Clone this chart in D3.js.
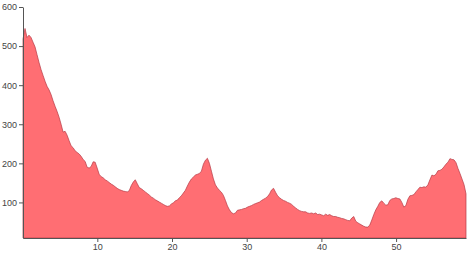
<!DOCTYPE html>
<html>
<head>
<meta charset="utf-8">
<script src="https://cdn.jsdelivr.net/npm/d3@7"></script>
<style>
  body { margin: 0; background: #fff; }
  svg { display: block; }
  .axis text { font-family: "Liberation Sans", Arial, sans-serif; font-size: 9px; fill: #444; }
  .axis path, .axis line { stroke: #555; }
</style>
</head>
<body>
<svg id="chart" width="473" height="253"></svg>
<script>
const values = [
  518,545,522,528,522,510,498,478,458,440,425,410,397,388,376,360,346,333,318,300,
  280,282,272,258,245,240,232,228,224,218,210,205,190,188,192,204,203,188,172,166,
  163,158,155,151,147,144,140,136,133,131,129,128,127,130,143,152,158,148,138,135,
  131,127,123,119,114,111,107,104,101,98,95,92,90,91,96,99,104,106,112,117,
  124,131,142,152,160,165,170,172,174,180,198,208,213,200,180,160,145,137,131,126,
  118,105,91,81,74,71,73,80,81,82,84,85,88,90,92,95,97,99,101,105,
  108,111,115,122,132,136,126,117,112,108,105,103,100,98,95,90,86,82,79,77,
  76,76,73,72,73,71,73,69,70,68,66,70,67,69,66,64,64,62,61,59,
  58,56,54,53,60,64,52,48,45,42,39,37,37,42,55,69,81,90,100,104,
  98,93,94,105,109,110,112,110,109,100,88,92,108,117,118,120,127,133,139,138,
  140,139,145,158,170,168,172,181,182,185,191,198,203,212,210,209,202,187,174,160,
  146,122
];
const timeStart = 0.05;
const timeEnd = 59.36;
const times = values.map((v, i) => timeStart + i * (timeEnd - timeStart) / (values.length - 1));
const data = values.map((v, i) => ({ t: times[i], v: v }));

const xTicks = [10, 20, 30, 40, 50];
const yTicks = [100, 200, 300, 400, 500, 600];
const yMin = 9, yMax = 600;

const W = 473, H = 253;
const margin = { top: 7, right: 7, bottom: 15, left: 23 };

const svg = d3.select("#chart");

const x = d3.scaleLinear()
  .domain([timeStart, timeEnd])
  .range([margin.left, W - margin.right]);
const y = d3.scaleLinear()
  .domain([yMin, yMax])
  .range([H - margin.bottom, margin.top]);

const area = d3.area()
  .x(d => x(d.t))
  .y0(y(yMin))
  .y1(d => y(d.v));

svg.append("path")
  .datum(data)
  .attr("d", area)
  .attr("fill", "#ff6e73")
  .attr("stroke", "#b53945")
  .attr("stroke-width", 0.7);

svg.append("g")
  .attr("class", "axis")
  .attr("transform", `translate(0,${H - margin.bottom})`)
  .call(d3.axisBottom(x).tickValues(xTicks).tickSize(4).tickSizeOuter(0).tickPadding(2));

svg.append("g")
  .attr("class", "axis")
  .attr("transform", `translate(${margin.left},0)`)
  .call(d3.axisLeft(y).tickValues(yTicks).tickSize(4).tickSizeOuter(0).tickPadding(2));
</script>
</body>
</html>
